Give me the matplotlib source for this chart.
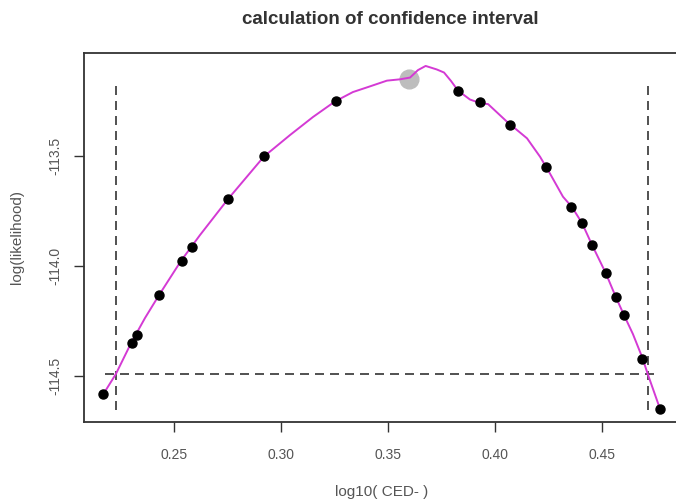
import matplotlib
matplotlib.use("Agg")
import matplotlib.pyplot as plt

# fitted points (log10 CED-, log likelihood)
pts_x = [0.2168, 0.2301, 0.2327, 0.2430, 0.2535, 0.2581, 0.2750, 0.2918, 0.3255,
         0.3825, 0.3929, 0.4071, 0.4238, 0.4356, 0.4406, 0.4453, 0.4517, 0.4564,
         0.4602, 0.4687, 0.4770]
pts_y = [-114.585, -114.350, -114.315, -114.132, -113.977, -113.913, -113.695,
         -113.500, -113.248, -113.201, -113.254, -113.356, -113.547, -113.729,
         -113.803, -113.903, -114.032, -114.141, -114.223, -114.424, -114.650]

# best estimate
best_x = [0.3597]
best_y = [-113.148]

# smoothed likelihood curve
curve_x = [0.2167, 0.2227, 0.2298, 0.2363, 0.2429, 0.2531, 0.2620, 0.2751, 0.2919,
           0.3041, 0.3148, 0.3251, 0.3335, 0.3406, 0.3494, 0.3555, 0.3602, 0.3639,
           0.3675, 0.3727, 0.3761, 0.3794, 0.3826, 0.3882, 0.3929, 0.3967, 0.4055,
           0.4149, 0.4210, 0.4256, 0.4317, 0.4359, 0.4406, 0.4453, 0.4517, 0.4564,
           0.4602, 0.4644, 0.4687, 0.4715, 0.4771]
curve_y = [-114.586, -114.492, -114.351, -114.237, -114.132, -113.977, -113.859,
           -113.695, -113.501, -113.403, -113.321, -113.250, -113.207, -113.184,
           -113.155, -113.149, -113.141, -113.107, -113.088, -113.104, -113.118,
           -113.157, -113.200, -113.241, -113.257, -113.262, -113.342, -113.418,
           -113.502, -113.578, -113.684, -113.731, -113.804, -113.904, -114.032,
           -114.141, -114.223, -114.310, -114.415, -114.497, -114.652]

# confidence limits and cut-off level
ci_x = [0.2227, 0.4713]
cut_y = -114.494
vline_range = (-114.656, -113.152)
hline_range = (0.2177, 0.4766)

xticks = [0.25, 0.30, 0.35, 0.40, 0.45]
xticklabels = ["0.25", "0.30", "0.35", "0.40", "0.45"]
yticks = [-113.5, -114.0, -114.5]
yticklabels = ["-113.5", "-114.0", "-114.5"]

plt.rcParams["font.family"] = ["Liberation Sans", "DejaVu Sans"]

fig = plt.figure(figsize=(6.76, 5.04), dpi=100)
ax = fig.add_axes([83.5 / 676, 82 / 504, 598.5 / 676, 369 / 504])

dash = dict(color="#333333", lw=1.2, dashes=(5.4, 3.6))
for cx in ci_x:
    ax.plot([cx, cx], vline_range, **dash)
ax.plot(hline_range, [cut_y, cut_y], **dash)

ax.plot(curve_x, curve_y, color="#d43ad4", lw=1.4, zorder=3)
ax.plot(pts_x, pts_y, "o", color="black", ms=6.5, zorder=4)
ax.plot(best_x, best_y, "o", color="#bdbdbd", ms=13.5, zorder=2)

ax.set_xlim(0.20755, 0.48735)
ax.set_ylim(-114.711, -113.029)

ax.set_xticks(xticks)
ax.set_xticklabels(xticklabels)
ax.set_yticks(yticks)
ax.set_yticklabels(yticklabels, rotation=90, va="center")
ax.tick_params(axis="both", length=7, width=1, color="#333333",
               labelsize=10, labelcolor="#555555")
ax.tick_params(axis="x", pad=12)
ax.tick_params(axis="y", pad=8)

for s in ax.spines.values():
    s.set_color("#333333")
    s.set_linewidth(1.3)

ax.set_xlabel("log10( CED- )", fontsize=11, color="#555555", va="center")
ax.xaxis.set_label_coords((382 - 83.5) / 598.5, -(492 - 422) / 369)
ax.set_ylabel("log(likelihood)", fontsize=11, color="#555555", va="center")
ax.yaxis.set_label_coords(-(83.5 - 17) / 598.5, 0.5)

fig.text(390 / 676, 1 - 20 / 504, "calculation of confidence interval",
         ha="center", va="center", fontsize=13.5, fontweight="bold", color="#333333")

fig.savefig("out.png", dpi=100)
